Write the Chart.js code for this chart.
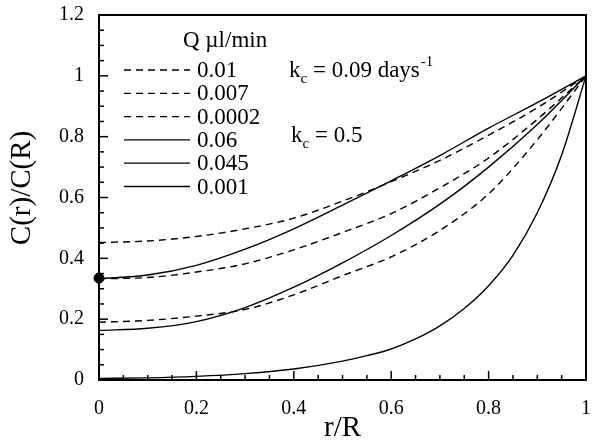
<!DOCTYPE html>
<html>
<head>
<meta charset="utf-8">
<script src="https://cdn.jsdelivr.net/npm/chart.js@4.4.0/dist/chart.umd.min.js"></script>
<style>
  html, body { margin: 0; padding: 0; background: #fff; }
  #wrap { width: 592px; height: 443px; }
</style>
</head>
<body>
<div id="wrap"><canvas id="profileChart" width="592" height="443"></canvas></div>
<script>
// r/R positions the curves were read at
const radius = [0, 0.1, 0.2, 0.3, 0.4, 0.5, 0.6, 0.7, 0.8, 0.9, 1];
const radiusFine = [0, 0.1, 0.2, 0.3, 0.4, 0.5, 0.55, 0.6, 0.65, 0.7, 0.75, 0.8, 0.85, 0.9, 0.95, 1];

// kc = 0.09 days^-1 (dashed)
const q001 = [0.452, 0.457, 0.472, 0.497, 0.532, 0.588, 0.652, 0.722, 0.805, 0.895, 1];
const q0007 = [0.333, 0.337, 0.355, 0.382, 0.428, 0.485, 0.547, 0.632, 0.73, 0.857, 1];
const q00002 = [0.19, 0.196, 0.21, 0.232, 0.28, 0.343, 0.405, 0.492, 0.612, 0.79, 1];
// kc = 0.5 (solid)
const q006 = [0.333, 0.345, 0.377, 0.43, 0.497, 0.575, 0.655, 0.738, 0.828, 0.912, 1];
const q0045 = [0.163, 0.17, 0.192, 0.238, 0.305, 0.385, 0.475, 0.578, 0.7, 0.84, 1];
const q0001 = [0.005, 0.007, 0.012, 0.021, 0.036, 0.062, 0.08, 0.102, 0.135, 0.178, 0.235, 0.31, 0.41, 0.55, 0.74, 1];

const seriesLabels = ['0.01', '0.007', '0.0002', '0.06', '0.045', '0.001'];
const centreDot = [{ x: 0, y: 0.335 }];

const xTicks = [0, 0.2, 0.4, 0.6, 0.8, 1];
const yTicks = [0, 0.2, 0.4, 0.6, 0.8, 1, 1.2];
const minorStep = 0.05;

const serif = 'Liberation Serif';
const dashed = [7, 5];

function pts(xs, ys) {
    return xs.map((v, i) => ({ x: v, y: ys[i] }));
}

function curve(label, xs, ys, dash) {
    return {
        label: label,
        data: pts(xs, ys),
        borderColor: '#000',
        borderWidth: 1.4,
        borderDash: dash,
        pointRadius: 0,
        fill: false,
        cubicInterpolationMode: 'monotone',
        clip: false
    };
}

// frame, inward ticks, axis titles, legend and kc notes
const decorations = {
    id: 'decorations',
    afterDatasetsDraw(chart) {
        const { ctx, chartArea: a, scales: { x, y } } = chart;
        ctx.save();
        ctx.strokeStyle = '#000';
        ctx.lineWidth = 2;
        ctx.strokeRect(a.left, a.top, a.right - a.left, a.bottom - a.top);

        ctx.lineWidth = 1.5;
        const nx = Math.round((x.max - x.min) / minorStep);
        for (let i = 0; i <= nx; i++) {
            const px = x.getPixelForValue(x.min + i * minorStep);
            const len = i % 4 === 0 ? 9 : 5;
            ctx.beginPath();
            ctx.moveTo(px, a.bottom);
            ctx.lineTo(px, a.bottom - len);
            ctx.stroke();
        }
        const ny = Math.round((y.max - y.min) / minorStep);
        for (let i = 0; i <= ny; i++) {
            const py = y.getPixelForValue(y.min + i * minorStep);
            const len = i % 4 === 0 ? 9 : 5;
            ctx.beginPath();
            ctx.moveTo(a.left, py);
            ctx.lineTo(a.left + len, py);
            ctx.stroke();
        }

        ctx.fillStyle = '#000';
        ctx.textBaseline = 'middle';

        // axis titles
        ctx.font = '29px "' + serif + '"';
        ctx.textAlign = 'center';
        ctx.fillText('r/R', (a.left + a.right) / 2, 428);
        ctx.save();
        ctx.translate(22, 188);
        ctx.rotate(-Math.PI / 2);
        ctx.fillText('C(r)/C(R)', 0, 0);
        ctx.restore();

        // legend
        ctx.textAlign = 'left';
        ctx.font = '23px "' + serif + '"';
        ctx.fillText('Q \u00b5l/min', 183, 41);
        let row = 0;
        chart.data.datasets.forEach(ds => {
            if (!ds.label) return;
            const ly = 70 + row * 23.3;
            ctx.lineWidth = 1.3;
            ctx.setLineDash(ds.borderDash || []);
            ctx.beginPath();
            ctx.moveTo(124, ly);
            ctx.lineTo(190, ly);
            ctx.stroke();
            ctx.setLineDash([]);
            ctx.fillText(ds.label, 197, ly + 1);
            row++;
        });

        // kc notes
        function kc(x0, y0, rest, sup) {
            ctx.font = '23px "' + serif + '"';
            ctx.fillText('k', x0, y0);
            let cx = x0 + ctx.measureText('k').width;
            ctx.font = '15px "' + serif + '"';
            ctx.fillText('c', cx, y0 + 8);
            cx += ctx.measureText('c').width;
            ctx.font = '23px "' + serif + '"';
            ctx.fillText(rest, cx, y0);
            cx += ctx.measureText(rest).width;
            if (sup) {
                ctx.font = '15px "' + serif + '"';
                ctx.fillText(sup, cx + 1, y0 - 9);
            }
        }
        kc(289, 71, ' = 0.09 days', '-1');
        kc(291, 136, ' = 0.5', null);
        ctx.restore();
    }
};

const ctx = document.getElementById('profileChart').getContext('2d');
const chart = new Chart(ctx, {
    type: 'line',
    data: {
        datasets: [
            curve(seriesLabels[0], radius, q001, dashed),
            curve(seriesLabels[1], radius, q0007, dashed),
            curve(seriesLabels[2], radius, q00002, dashed),
            curve(seriesLabels[3], radius, q006, []),
            curve(seriesLabels[4], radius, q0045, []),
            curve(seriesLabels[5], radiusFine, q0001, []),
            {
                type: 'scatter',
                data: centreDot,
                pointRadius: 5,
                pointBackgroundColor: '#000',
                pointBorderColor: '#000',
                showLine: false,
                clip: false
            }
        ]
    },
    options: {
        responsive: false,
        animation: false,
        layout: { padding: { top: 15, right: 4, left: 0, bottom: 0 } },
        plugins: {
            legend: { display: false },
            tooltip: { enabled: false }
        },
        scales: {
            x: {
                type: 'linear',
                min: 0,
                max: 1,
                grid: { display: false, drawTicks: false },
                border: { display: false },
                afterBuildTicks: scale => { scale.ticks = xTicks.map(v => ({ value: v })); },
                afterFit: scale => {
                    scale.height = 63;
                    scale.paddingLeft = 0;
                    scale.paddingRight = 0;
                },
                ticks: {
                    color: '#000',
                    padding: 17,
                    maxRotation: 0,
                    font: { family: serif, size: 20 },
                    callback: v => String(v)
                }
            },
            y: {
                min: 0,
                max: 1.2,
                grid: { display: false, drawTicks: false },
                border: { display: false },
                afterBuildTicks: scale => { scale.ticks = yTicks.map(v => ({ value: v })); },
                afterFit: scale => {
                    scale.width = 99;
                    scale.paddingTop = 0;
                    scale.paddingBottom = 0;
                },
                ticks: {
                    color: '#000',
                    padding: 15,
                    font: { family: serif, size: 20 },
                    callback: v => String(v)
                }
            }
        }
    },
    plugins: [decorations]
});
</script>
</body>
</html>
